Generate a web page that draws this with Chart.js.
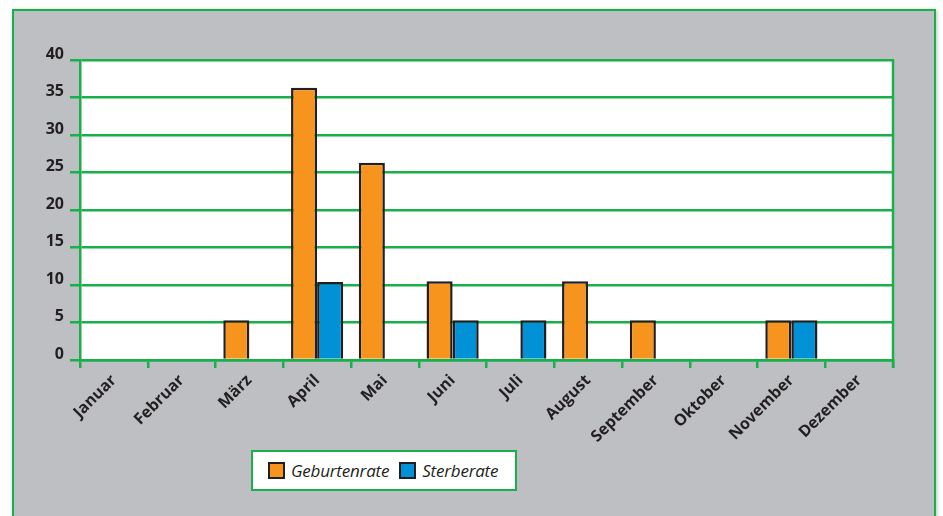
<!DOCTYPE html>
<html>
<head>
<meta charset="utf-8">
<script src="https://cdn.jsdelivr.net/npm/chart.js@4"></script>
<style>
    html, body { margin: 0; padding: 0; background: #fff; width: 943px; height: 516px; overflow: hidden; }
    #frame {
        position: absolute; left: 12px; top: 9px; width: 920px; height: 530px;
        background: #bebfc3; border: 2px solid #19b04b;
        box-shadow: 1px 1px 4px rgba(0,0,0,0.25);
    }
    #wrap { position: absolute; left: 0; top: 0; width: 943px; height: 516px; }
    #legend {
        position: absolute; left: 251px; top: 450px; width: 266px; height: 41px;
        background: #fff; border: 2px solid #19b04b; box-sizing: border-box;
        font-family: 'Open Sans', sans-serif; font-style: italic; font-size: 17px; color: #231f20;
        display: flex; align-items: center; padding-left: 15px; letter-spacing: -0.2px;
    }
    #legend .item { display: flex; align-items: center; margin-right: 10px; }
    #legend .box { width: 13px; height: 13px; border: 2px solid #231f20; margin-right: 6px; }
</style>
</head>
<body>
<div id="frame"></div>
<div id="wrap"><canvas id="chart" width="943" height="516"></canvas></div>
<div id="legend"></div>
<script>
document.addEventListener('DOMContentLoaded', () => {
    const months = ['Januar', 'Februar', 'März', 'April', 'Mai', 'Juni', 'Juli', 'August', 'September', 'Oktober', 'November', 'Dezember'];
    const geburtenrate = [0, 0, 5.3, 36.3, 26.3, 10.5, 0, 10.5, 5.3, 0, 5.3, 0];
    const sterberate = [0, 0, 0, 10.4, 0, 5.3, 5.3, 0, 0, 0, 5.3, 0];
    const yTicks = [0, 5, 10, 15, 20, 25, 30, 35, 40];

    const green = '#19b04b';
    const ink = '#231f20';

    // White plot area + right border line
    const plotBackground = {
        id: 'plotBackground',
        beforeDraw(chart) {
            const { ctx, chartArea: a } = chart;
            ctx.save();
            ctx.fillStyle = '#fff';
            ctx.fillRect(a.left, a.top, a.right - a.left, a.bottom - a.top);
            ctx.restore();
        },
        beforeDatasetsDraw(chart) {
            const { ctx, chartArea: a } = chart;
            ctx.save();
            ctx.strokeStyle = green;
            ctx.lineWidth = 2.5;
            ctx.beginPath();
            ctx.moveTo(a.right, a.top - 1);
            ctx.lineTo(a.right, a.bottom + 8);
            ctx.stroke();
            ctx.restore();
        }
    };

    const datasets = [
        { label: 'Geburtenrate', data: geburtenrate, backgroundColor: '#f7941d' },
        { label: 'Sterberate', data: sterberate, backgroundColor: '#0091d7' }
    ];

    const chart = new Chart(document.getElementById('chart'), {
        type: 'bar',
        data: {
            labels: months,
            datasets: datasets.map(d => ({
                ...d,
                borderColor: ink,
                borderWidth: 2.5,
                borderSkipped: 'bottom',
                categoryPercentage: 0.77,
                barPercentage: 1
            }))
        },
        plugins: [plotBackground],
        options: {
            responsive: false,
            animation: false,
            layout: { padding: { left: 0, right: 50, top: 60, bottom: 0 } },
            plugins: {
                legend: { display: false },
                tooltip: { enabled: false }
            },
            scales: {
                x: {
                    grid: { display: true, drawOnChartArea: false, drawTicks: true, tickLength: 8, color: green, lineWidth: 2.5 },
                    border: { color: green, width: 2.5 },
                    ticks: {
                        minRotation: 45, maxRotation: 45, padding: 3,
                        color: ink,
                        font: { family: "'Open Sans', sans-serif", weight: 'bold', size: 16 }
                    },
                    afterFit(scale) { scale.height = 156; }
                },
                y: {
                    min: 0, max: 40,
                    afterBuildTicks(scale) { scale.ticks = yTicks.map(v => ({ value: v })); },
                    grid: { color: green, lineWidth: 2.5, tickLength: 10 },
                    border: { color: green, width: 2.5 },
                    ticks: {
                        padding: 6, labelOffset: -6,
                        color: ink,
                        font: { family: "'Open Sans', sans-serif", weight: 'bold', size: 16 }
                    },
                    afterFit(scale) { scale.width = 80; }
                }
            }
        }
    });

    // Legend box built from the datasets
    const legend = document.getElementById('legend');
    chart.data.datasets.forEach(ds => {
        const item = document.createElement('span');
        item.className = 'item';
        item.innerHTML = `<span class="box" style="background:${ds.backgroundColor}"></span>${ds.label}`;
        legend.appendChild(item);
    });
});
</script>
</body>
</html>
